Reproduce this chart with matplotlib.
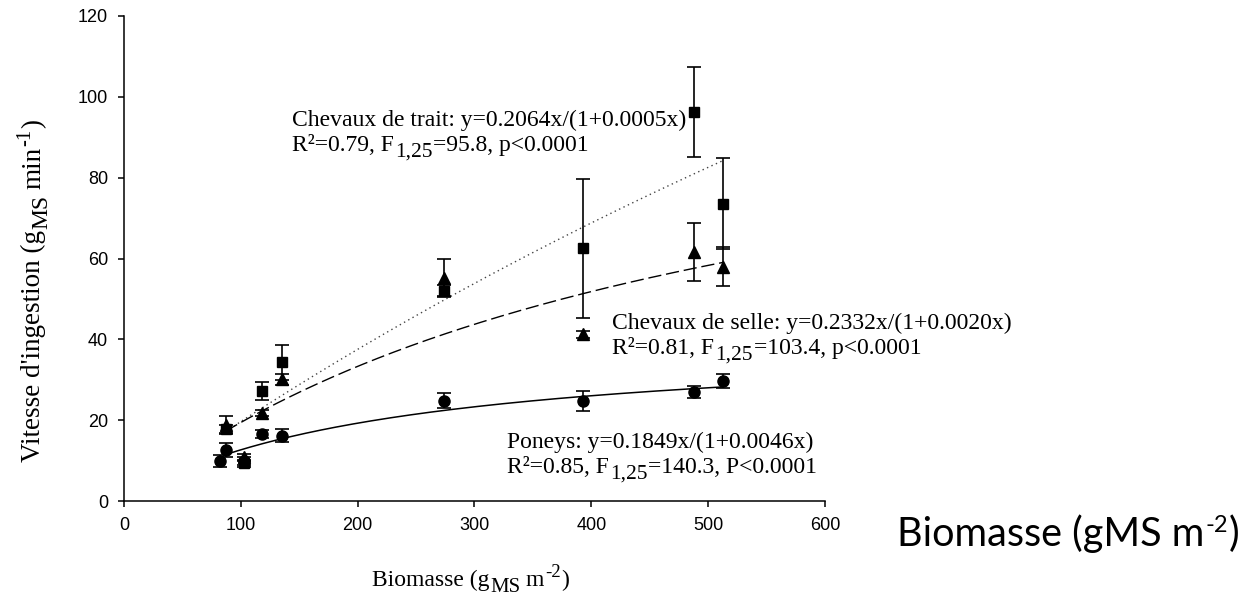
import matplotlib
matplotlib.use("Agg")
import matplotlib.pyplot as plt
from matplotlib.transforms import IdentityTransform
import numpy as np

# data (biomasse in gMS m-2, vitesse in gMS min-1)
x_poneys = [82, 87, 103, 118, 135, 274, 393, 488, 513]
y_poneys = [10.0, 12.6, 10.0, 16.5, 16.2, 24.8, 24.7, 27.0, 29.7]
e_poneys = [1.5, 1.8, 1.0, 1.0, 1.5, 1.8, 2.4, 1.4, 1.8]

x_selle = [87, 103, 118, 135, 274, 393, 488, 513]
y_selle = [18.8, 10.8, 21.8, 30.1, 55.2, 41.2, 61.7, 58.0]
e_selle = [2.3, 0.8, 0.7, 1.3, 4.6, 0.8, 7.2, 4.9]

x_trait = [87, 103, 118, 135, 274, 393, 488, 513]
y_trait = [17.8, 9.3, 27.2, 34.3, 52.0, 62.5, 96.3, 73.6]
e_trait = [1.0, 0.8, 2.3, 4.3, 1.5, 17.2, 11.1, 11.2]

# fitted coefficients printed on the chart: y = a x / (1 + b x)
fit_poneys = (0.1849, 0.0046)
fit_selle = (0.2332, 0.0020)
fit_trait = (0.2064, 0.0005)

W, H = 1250, 597
fig = plt.figure(figsize=(12.5, 5.97), dpi=100)
ax = fig.add_axes([124/W, 96/H, 701/W, 485/H])

def curve(coef, x0, x1):
    xs = np.linspace(x0, x1, 200)
    return xs, coef[0]*xs/(1 + coef[1]*xs)

# fit lines
xs, ys = curve(fit_trait, 87, 513)
ax.plot(xs, ys, color='#444444', lw=1, ls=(0, (1, 2.5)))
xs, ys = curve(fit_selle, 87, 513)
ax.plot(xs, ys, color='black', lw=1, ls=(0, (9.5, 3.5)))
xs, ys = curve(fit_poneys, 87, 513)
ax.plot(xs, ys, color='black', lw=1.1)

# points with error bars
ax.errorbar(x_trait, y_trait, yerr=e_trait, fmt='s', color='black', ms=7.5,
            capsize=5, elinewidth=1.2, capthick=1.2)
ax.errorbar(x_selle, y_selle, yerr=e_selle, fmt='^', color='black', ms=8.5,
            capsize=5, elinewidth=1.2, capthick=1.2)
ax.errorbar(x_poneys, y_poneys, yerr=e_poneys, fmt='o', color='black', ms=8,
            capsize=5, elinewidth=1.2, capthick=1.2)

ax.set_xlim(0, 600)
ax.set_ylim(0, 120)
ax.set_xticks(range(0, 601, 100))
ax.set_yticks(range(0, 121, 20))
ax.spines['top'].set_visible(False)
ax.spines['right'].set_visible(False)
for s in ['left', 'bottom']:
    ax.spines[s].set_linewidth(1.1)
ax.tick_params(direction='out', length=4.5, width=1.1, labelsize=13)
ax.tick_params(axis='x', pad=7)
ax.tick_params(axis='y', pad=7)
for lab in ax.get_xticklabels() + ax.get_yticklabels():
    lab.set_fontfamily('Liberation Sans')

fig.canvas.draw()
rend = fig.canvas.get_renderer()

def pieces(x, y, parts, family, rot=False):
    # parts: (text, fontsize, baseline shift px, gap px before)
    # x, y in pixels, y measured from the bottom of the figure
    for s, size, dy, gap in parts:
        if rot:
            pos = (x - dy, y + gap)
        else:
            pos = (x + gap, y + dy)
        t = fig.text(pos[0], pos[1], s, fontsize=size, family=family,
                     ha='left', va='baseline', rotation=90 if rot else 0,
                     rotation_mode='anchor', transform=IdentityTransform())
        bb = t.get_window_extent(rend)
        if rot:
            y = bb.y1
        else:
            x = bb.x1

serif = 'Liberation Serif'
fs = 17
sub = 15.5

# annotations
pieces(292, H - 126, [('Chevaux de trait: y=0.2064x/(1+0.0005x)', fs, 0, 0)], serif)
pieces(292, H - 151, [('R²=0.79, F', fs, 0, 0), ('1,25', sub, -6, 1),
                      ('=95.8, p<0.0001', fs, 0, 1)], serif)
pieces(612, H - 329, [('Chevaux de selle: y=0.2332x/(1+0.0020x)', fs, 0, 0)], serif)
pieces(612, H - 354, [('R²=0.81, F', fs, 0, 0), ('1,25', sub, -6, 1),
                      ('=103.4, p<0.0001', fs, 0, 1)], serif)
pieces(507, H - 448, [('Poneys: y=0.1849x/(1+0.0046x)', fs, 0, 0)], serif)
pieces(507, H - 473, [('R²=0.85, F', fs, 0, 0), ('1,25', sub, -6, 1),
                      ('=140.3, P<0.0001', fs, 0, 1)], serif)

# axis labels
pieces(372, H - 586, [('Biomasse (g', 17, 0, 0), ('MS', 15, -6, 1),
                      ('m', 17, 0, 5), ('-2', 13.5, 9, 1), (')', 17, 0, 1)], serif)
pieces(40, H - 462, [("Vitesse d'ingestion (g", 19.5, 0, 0), ('MS', 17, -7, 1),
                     ('min', 19.5, 0, 6), ('-1', 15, 10, 1), (')', 19.5, 0, 1)],
       serif, rot=True)

# big sans label on the right
pieces(897, H - 546, [('Biomasse (gMS m', 28.5, 0, 0), ('-2', 17, 14, 1),
                      (')', 28.5, 0, 1)], 'Lato')

fig.savefig('out.png', dpi=100)
